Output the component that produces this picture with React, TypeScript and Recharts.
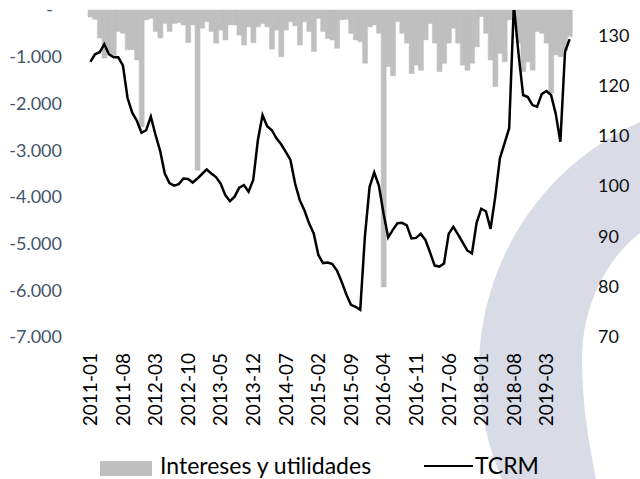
import React from 'react';
import { ComposedChart, Bar, Line, XAxis, YAxis, Legend } from 'recharts';

const months = [
  '2011-01','2011-02','2011-03','2011-04','2011-05','2011-06','2011-07','2011-08','2011-09','2011-10','2011-11','2011-12',
  '2012-01','2012-02','2012-03','2012-04','2012-05','2012-06','2012-07','2012-08','2012-09','2012-10','2012-11','2012-12',
  '2013-01','2013-02','2013-03','2013-04','2013-05','2013-06','2013-07','2013-08','2013-09','2013-10','2013-11','2013-12',
  '2014-01','2014-02','2014-03','2014-04','2014-05','2014-06','2014-07','2014-08','2014-09','2014-10','2014-11','2014-12',
  '2015-01','2015-02','2015-03','2015-04','2015-05','2015-06','2015-07','2015-08','2015-09','2015-10','2015-11','2015-12',
  '2016-01','2016-02','2016-03','2016-04','2016-05','2016-06','2016-07','2016-08','2016-09','2016-10','2016-11','2016-12',
  '2017-01','2017-02','2017-03','2017-04','2017-05','2017-06','2017-07','2017-08','2017-09','2017-10','2017-11','2017-12',
  '2018-01','2018-02','2018-03','2018-04','2018-05','2018-06','2018-07','2018-08','2018-09','2018-10','2018-11','2018-12',
  '2019-01','2019-02','2019-03','2019-04','2019-05','2019-06','2019-07','2019-08',
];

const intereses = [
  -150, -200, -600, -1030, -950, -980, -460, -500, -850, -850, -1070, -2500,
  -210, -180, -460, -600, -290, -460, -290, -270, -320, -700, -320, -3430,
  -390, -250, -460, -710, -430, -640, -320, -320, -540, -750, -360, -700,
  -360, -290, -360, -840, -430, -1000, -430, -250, -340, -750, -250, -460,
  -890, -180, -460, -610, -640, -820, -210, -200, -500, -640, -680, -1140,
  -360, -320, -500, -5930, -1210, -1410, -250, -500, -710, -1360, -1180, -1290,
  -640, -290, -710, -1320, -1140, -710, -390, -710, -1180, -1290, -1140, -790,
  -140, -500, -1070, -1640, -930, -1110, -210, -100, -710, -1320, -1110, -1290,
  -460, -500, -710, -1780, -960, -1000, -860, -570,
];

const tcrm = [
  124.7, 126.2, 126.6, 128.2, 126.2, 125.6, 125.6, 124.0, 117.5, 114.6, 113.0, 110.6,
  111.1, 113.8, 110.2, 107.0, 102.5, 100.6, 100.1, 100.4, 101.5, 101.4, 100.7, 101.5,
  102.4, 103.3, 102.5, 101.8, 100.5, 98.2, 97.0, 97.9, 99.7, 100.2, 98.9, 101.2,
  109.1, 114.1, 111.9, 111.1, 109.5, 108.3, 106.8, 105.2, 100.5, 97.2, 95.2, 92.6,
  90.6, 86.3, 84.7, 84.8, 84.5, 83.2, 81.0, 78.5, 76.4, 76.0, 75.4, 90.0,
  99.8, 102.7, 100.1, 94.6, 89.8, 91.3, 92.6, 92.7, 92.2, 89.6, 89.7, 90.5,
  89.3, 86.8, 84.2, 84.0, 84.6, 90.5, 91.9, 90.4, 88.8, 87.2, 86.6, 92.7,
  95.5, 95.0, 91.5, 97.8, 105.5, 108.5, 111.5, 136.0, 126.4, 118.1, 117.7, 116.1,
  115.8, 118.3, 118.9, 118.1, 114.4, 108.8, 126.7, 129.2,
];

const leftTicks = [-7000, -6000, -5000, -4000, -3000, -2000, -1000, 0];
const rightTicks = [70, 80, 90, 100, 110, 120, 130];

const data = months.map((m, i) => ({ month: m, intereses: intereses[i], tcrm: tcrm[i] }));

const FONT = 'Lato, "Noto Sans", sans-serif';
const BAR_COLOR = '#bfbfbf';

function fmtLeft(v: number): string {
  if (v === 0) return '-';
  const abs = Math.abs(v);
  const thousands = Math.floor(abs / 1000);
  const rest = String(abs % 1000).padStart(3, '0');
  return (v < 0 ? '-' : '') + thousands + '.' + rest;
}

const LeftTick = (props: any) => {
  const { x, y, payload } = props;
  const v = payload.value;
  return (
    <text x={v === 0 ? x - 9 : x} y={y} dy="0.355em" textAnchor="end" fill="#44546A" fontFamily={FONT} fontSize={18}>
      {fmtLeft(v)}
    </text>
  );
};

const RightTick = (props: any) => {
  const { x, y, payload } = props;
  return (
    <text x={x} y={y} dy="0.355em" textAnchor="start" fill="#111" fontFamily={FONT} fontSize={18}>
      {payload.value}
    </text>
  );
};

const XTick = (props: any) => {
  const { x, y, payload } = props;
  return (
    <text x={x} y={y} dy="0.36em" textAnchor="end" transform={`rotate(-90 ${x} ${y})`} fill="#000" fontFamily={FONT} fontSize={19}>
      {payload.value}
    </text>
  );
};

const LegendContent = () => (
  <div style={{ position: 'relative', width: 640, height: 30, fontFamily: FONT, fontSize: 23, color: '#000' }}>
    <div style={{ position: 'absolute', left: 100, top: 12, width: 52, height: 15, background: BAR_COLOR }} />
    <span style={{ position: 'absolute', left: 160, top: 4, lineHeight: '24px', whiteSpace: 'nowrap' }}>Intereses y utilidades</span>
    <div style={{ position: 'absolute', left: 424, top: 16, width: 49, height: 2, background: '#000' }} />
    <span style={{ position: 'absolute', left: 475, top: 4, lineHeight: '24px', whiteSpace: 'nowrap' }}>TCRM</span>
  </div>
);

export default function App() {
  return (
    <div style={{ position: 'absolute', left: 0, top: 0, width: 640, height: 479, overflow: 'hidden', background: '#fff' }}>
      <svg width={640} height={479} style={{ position: 'absolute', left: 0, top: 0 }}>
        <path
          d="M 640 122 A 271 271 0 0 0 502 479 L 596 479 C 588 440 582 400 582 360 C 582 310 603 262 640 233 Z"
          fill="#d9dbe6"
        />
      </svg>
      <ComposedChart
        width={640}
        height={479}
        data={data}
        margin={{ top: 10, right: 0, bottom: 0, left: 0 }}
        barCategoryGap={0}
        barGap={0}
      >
        <XAxis
          dataKey="month"
          interval={6}
          axisLine={false}
          tickLine={false}
          tickMargin={10}
          height={112}
          tick={<XTick />}
        />
        <YAxis
          yAxisId="left"
          orientation="left"
          domain={[-7000, 0]}
          ticks={leftTicks}
          axisLine={false}
          tickLine={false}
          tickMargin={20}
          width={88}
          tick={<LeftTick />}
        />
        <YAxis
          yAxisId="right"
          orientation="right"
          domain={[70, 135]}
          ticks={rightTicks}
          allowDataOverflow
          axisLine={false}
          tickLine={false}
          tickMargin={20}
          width={68}
          tick={<RightTick />}
        />
        <Bar yAxisId="left" dataKey="intereses" fill={BAR_COLOR} stroke={BAR_COLOR} strokeWidth={0.5} isAnimationActive={false} />
        <Line yAxisId="right" dataKey="tcrm" type="linear" stroke="#000" strokeWidth={2.5} dot={false} isAnimationActive={false} />
        <Legend verticalAlign="bottom" align="left" content={<LegendContent />} />
      </ComposedChart>
    </div>
  );
}
